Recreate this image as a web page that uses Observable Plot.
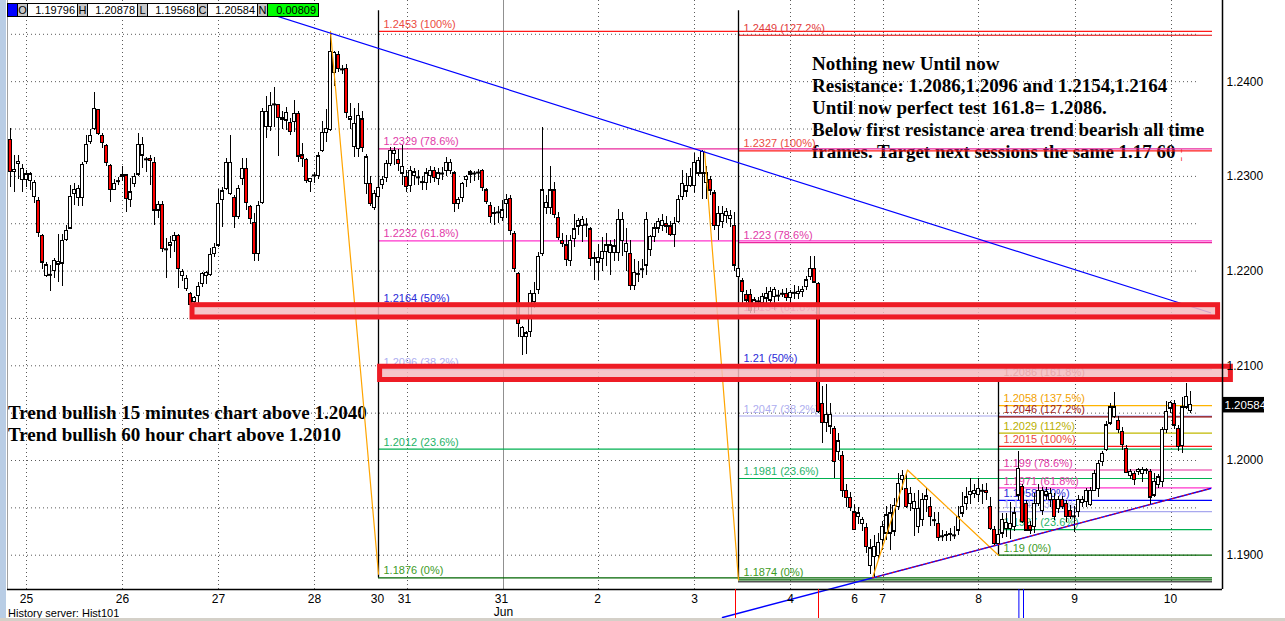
<!DOCTYPE html>
<html><head><meta charset="utf-8">
<script src="https://cdn.jsdelivr.net/npm/d3@7"></script>
<script src="https://cdn.jsdelivr.net/npm/@observablehq/plot@0.6"></script>
<style>
html,body{margin:0;padding:0;background:#fff;}
#wrap{position:relative;width:1285px;height:621px;overflow:hidden;background:#fff;font-family:Arial,"Liberation Sans",sans-serif;}
#strip{position:absolute;left:0;top:0;width:6px;height:621px;background:#b9cde5;}
.note{position:absolute;font-family:"Liberation Serif","Times New Roman",serif;font-weight:bold;font-size:19px;line-height:22px;color:#000;white-space:nowrap;}
#chart{position:absolute;left:0;top:0;}
#hdr{position:absolute;left:7px;top:3px;display:flex;height:12px;border:1px solid #000;font-size:11px;line-height:12px;background:#fff;}
#hdr div{border-right:1px solid #000;box-sizing:border-box;height:12px;}
#hdr .k{width:10px;background:#c8c8c8;text-align:center;}
#hdr .v{width:50px;text-align:right;padding-right:2px;}
#foot{position:absolute;left:8px;top:607px;height:11px;overflow:hidden;font-size:11px;line-height:13px;}
#bar{position:absolute;left:0;top:618px;width:1285px;height:3px;background:#d4d0c8;}
</style></head>
<body><div id="wrap">
<div id="strip"></div>
<div class="note" style="left:812px;top:53px;">Nothing new Until now<br>Resistance: 1.2086,1.2096 and 1.2154,1.2164<br>Until now perfect test 161.8= 1.2086.<br>Below first resistance area trend bearish all time<br>frames. Target next sessions the same 1.17 60 <span style="color:#e00;font-weight:normal;font-size:13px">¦</span></div>
<div class="note" style="left:8px;top:402px;">Trend bullish 15 minutes chart above 1.2040<br>Trend bullish 60 hour chart above 1.2010</div>
<div id="chart"></div>
<div id="hdr"></div>
<div id="foot">History server: Hist101</div>
<div id="bar"></div>
</div>
<script>
// ---------- DATA (hourly EUR/USD candles: [open, high, low, close]) ----------
const may25 = [
[1.2338,1.2351,1.2288,1.2305],[1.2305,1.2322,1.2283,1.2307],[1.2313,1.2322,1.2297,1.2315],[1.2296,1.2313,1.2283,1.2308],
[1.2296,1.2306,1.2288,1.2302],[1.2295,1.2304,1.2285,1.2302],[1.2278,1.2296,1.2271,1.2293],[1.2274,1.2278,1.2235,1.2240],
[1.2237,1.2239,1.2202,1.2209],[1.2195,1.2209,1.2193,1.2206],[1.2196,1.2206,1.2178,1.2196],[1.2200,1.2213,1.2192,1.2211],
[1.2207,1.2239,1.2188,1.2210],[1.2208,1.2239,1.2184,1.2232],[1.2233,1.2248,1.2231,1.2242],[1.2245,1.2290,1.2245,1.2278],
[1.2281,1.2293,1.2269,1.2286],[1.2277,1.2290,1.2268,1.2287],[1.2277,1.2315,1.2268,1.2312],[1.2315,1.2343,1.2313,1.2333],
[1.2336,1.2350,1.2334,1.2343],[1.2350,1.2389,1.2348,1.2371],[1.2370,1.2371,1.2343,1.2345],[1.2343,1.2345,1.2329,1.2335],
[1.2332,1.2334,1.2310,1.2314],[1.2311,1.2313,1.2272,1.2286],[1.2286,1.2297,1.2285,1.2292],[1.2295,1.2299,1.2290,1.2295]];
const may26 = [
[1.2299,1.2310,1.2295,1.2301],[1.2301,1.2302,1.2262,1.2276],[1.2275,1.2298,1.2267,1.2283],[1.2292,1.2303,1.2288,1.2299],
[1.2302,1.2345,1.2300,1.2333],[1.2322,1.2341,1.2308,1.2333],[1.2318,1.2320,1.2304,1.2318],[1.2318,1.2322,1.2290,1.2316],
[1.2314,1.2320,1.2248,1.2264],[1.2264,1.2273,1.2256,1.2270],[1.2270,1.2273,1.2220,1.2223],[1.2223,1.2234,1.2192,1.2223],
[1.2227,1.2236,1.2213,1.2230],[1.2232,1.2241,1.2220,1.2237],[1.2237,1.2239,1.2182,1.2202],[1.2195,1.2202,1.2189,1.2199],
[1.2181,1.2195,1.2178,1.2192],[1.2176,1.2177,1.2163,1.2164],[1.2167,1.2173,1.2163,1.2172],[1.2174,1.2188,1.2165,1.2183],
[1.2186,1.2199,1.2183,1.2197],[1.2195,1.2200,1.2186,1.2198],[1.2196,1.2224,1.2194,1.2217],[1.2218,1.2229,1.2214,1.2224]];
const may27 = [
[1.2227,1.2286,1.2225,1.2271],[1.2275,1.2288,1.2246,1.2284],[1.2287,1.2319,1.2285,1.2314],[1.2281,1.2343,1.2280,1.2314],
[1.2277,1.2280,1.2245,1.2257],[1.2257,1.2290,1.2254,1.2287],[1.2297,1.2319,1.2290,1.2308],[1.2308,1.2319,1.2264,1.2272],
[1.2268,1.2269,1.2249,1.2255],[1.2251,1.2261,1.2210,1.2218],[1.2218,1.2273,1.2210,1.2269],[1.2272,1.2372,1.2270,1.2368],
[1.2352,1.2384,1.2340,1.2368],[1.2352,1.2389,1.2347,1.2374],[1.2376,1.2394,1.2352,1.2376],[1.2375,1.2376,1.2321,1.2362],
[1.2360,1.2369,1.2350,1.2362],[1.2359,1.2373,1.2348,1.2367],[1.2356,1.2361,1.2343,1.2347],[1.2357,1.2380,1.2346,1.2366],
[1.2366,1.2369,1.2315,1.2321],[1.2322,1.2335,1.2309,1.2318],[1.2317,1.2319,1.2293,1.2295],[1.2294,1.2297,1.2283,1.2297]];
const may28 = [
[1.2301,1.2304,1.2293,1.2301],[1.2300,1.2325,1.2297,1.2321],[1.2327,1.2358,1.2325,1.2346],[1.2346,1.2371,1.2336,1.2350],
[1.2349,1.2453,1.2347,1.2431],[1.2409,1.2432,1.2395,1.2430],[1.2428,1.2432,1.2410,1.2413],[1.2413,1.2417,1.2408,1.2413],
[1.2413,1.2418,1.2361,1.2367],[1.2360,1.2377,1.2350,1.2363],[1.2331,1.2372,1.2320,1.2355],[1.2329,1.2377,1.2320,1.2364],
[1.2360,1.2368,1.2325,1.2330],[1.2292,1.2323,1.2281,1.2320],[1.2292,1.2300,1.2268,1.2271],[1.2267,1.2285,1.2264,1.2281]];
const may31 = [
[1.2278,1.2292,1.2272,1.2288],[1.2291,1.2300,1.2286,1.2296],[1.2298,1.2317,1.2294,1.2313],[1.2313,1.2330,1.2310,1.2327],
[1.2324,1.2330,1.2312,1.2327],[1.2317,1.2328,1.2305,1.2313],[1.2303,1.2333,1.2290,1.2310],[1.2299,1.2306,1.2283,1.2289],
[1.2290,1.2310,1.2283,1.2306],[1.2300,1.2308,1.2290,1.2304],[1.2299,1.2306,1.2290,1.2299],[1.2294,1.2300,1.2285,1.2294],
[1.2293,1.2308,1.2285,1.2303],[1.2300,1.2310,1.2292,1.2306],[1.2306,1.2309,1.2294,1.2298],[1.2297,1.2308,1.2290,1.2303],
[1.2303,1.2309,1.2296,1.2303],[1.2306,1.2320,1.2300,1.2314],[1.2306,1.2318,1.2302,1.2314],[1.2303,1.2305,1.2262,1.2271],
[1.2271,1.2278,1.2265,1.2275],[1.2277,1.2294,1.2272,1.2292],[1.2296,1.2301,1.2288,1.2299],[1.2302,1.2306,1.2292,1.2304],
[1.2303,1.2305,1.2295,1.2303],[1.2304,1.2307,1.2296,1.2304],[1.2306,1.2307,1.2284,1.2288],[1.2285,1.2287,1.2270,1.2273],
[1.2269,1.2272,1.2250,1.2257],[1.2260,1.2267,1.2248,1.2261],[1.2262,1.2268,1.2250,1.2262]];
const jun1 = [
[1.2256,1.2275,1.2252,1.2264],[1.2271,1.2281,1.2255,1.2275],[1.2276,1.2280,1.2238,1.2242],[1.2239,1.2242,1.2198,1.2202],
[1.2197,1.2198,1.2130,1.2144],[1.2130,1.2142,1.2111,1.2140],[1.2130,1.2136,1.2112,1.2134],[1.2136,1.2180,1.2130,1.2176],
[1.2167,1.2188,1.2160,1.2176],[1.2180,1.2220,1.2175,1.2215],[1.2218,1.2352,1.2215,1.2285],[1.2267,1.2280,1.2260,1.2272],
[1.2267,1.2310,1.2260,1.2285],[1.2285,1.2294,1.2255,1.2259],[1.2256,1.2262,1.2232,1.2235],[1.2232,1.2240,1.2225,1.2229],
[1.2227,1.2238,1.2205,1.2212],[1.2211,1.2238,1.2205,1.2232],[1.2234,1.2260,1.2225,1.2244],[1.2247,1.2256,1.2238,1.2253],
[1.2248,1.2258,1.2230,1.2254],[1.2249,1.2256,1.2235,1.2249],[1.2244,1.2246,1.2205,1.2213],[1.2213,1.2220,1.2190,1.2214]];
const jun2 = [
[1.2209,1.2228,1.2190,1.2214],[1.2213,1.2235,1.2200,1.2220],[1.2220,1.2240,1.2205,1.2227],[1.2219,1.2232,1.2195,1.2227],
[1.2219,1.2233,1.2210,1.2226],[1.2219,1.2265,1.2210,1.2254],[1.2232,1.2262,1.2215,1.2254],[1.2220,1.2245,1.2200,1.2229],
[1.2218,1.2232,1.2180,1.2184],[1.2184,1.2212,1.2180,1.2198],[1.2197,1.2210,1.2188,1.2197],[1.2202,1.2212,1.2192,1.2202],
[1.2206,1.2262,1.2195,1.2254],[1.2222,1.2238,1.2215,1.2236],[1.2236,1.2250,1.2230,1.2245],[1.2245,1.2255,1.2240,1.2252],
[1.2248,1.2260,1.2242,1.2253],[1.2250,1.2258,1.2240,1.2247],[1.2247,1.2252,1.2236,1.2238],[1.2238,1.2257,1.2225,1.2250],
[1.2252,1.2280,1.2250,1.2275],[1.2278,1.2306,1.2275,1.2292],[1.2284,1.2303,1.2278,1.2290],[1.2290,1.2308,1.2288,1.2299]];
const jun3 = [
[1.2290,1.2324,1.2282,1.2314],[1.2303,1.2320,1.2300,1.2316],[1.2303,1.2327,1.2276,1.2326],[1.2293,1.2310,1.2276,1.2303],
[1.2296,1.2300,1.2280,1.2285],[1.2282,1.2285,1.2243,1.2248],[1.2248,1.2268,1.2232,1.2260],[1.2252,1.2268,1.2245,1.2260],
[1.2258,1.2266,1.2250,1.2262],[1.2255,1.2264,1.2246,1.2258],[1.2248,1.2262,1.2200,1.2206],[1.2194,1.2206,1.2180,1.2202],
[1.2189,1.2192,1.2166,1.2178],[1.2175,1.2180,1.2165,1.2169],[1.2175,1.2181,1.2155,1.2158],[1.2162,1.2172,1.2155,1.2169],
[1.2168,1.2172,1.2158,1.2168],[1.2166,1.2176,1.2162,1.2173],[1.2171,1.2183,1.2164,1.2176],[1.2169,1.2183,1.2165,1.2178],
[1.2173,1.2183,1.2158,1.2180],[1.2174,1.2180,1.2168,1.2174],[1.2176,1.2181,1.2172,1.2176],[1.2176,1.2182,1.2168,1.2172]];
const jun4 = [
[1.2172,1.2180,1.2166,1.2177],[1.2177,1.2185,1.2170,1.2177],[1.2176,1.2184,1.2170,1.2178],[1.2178,1.2184,1.2172,1.2180],
[1.2183,1.2194,1.2180,1.2190],[1.2194,1.2215,1.2190,1.2202],[1.2202,1.2215,1.2187,1.2188],[1.2186,1.2188,1.2050,1.2051],
[1.2060,1.2078,1.2018,1.2040],[1.2040,1.2080,1.2030,1.2048],[1.2036,1.2060,1.2027,1.2048],[1.2033,1.2036,1.1981,1.1998],
[1.2009,1.2028,1.2000,1.2020],[1.2005,1.2009,1.1961,1.1968],[1.1968,1.1975,1.1950,1.1960],[1.1960,1.1966,1.1946,1.1950]];
const jun7 = [
[1.1945,1.1954,1.1926,1.1927],[1.1940,1.1950,1.1932,1.1944],[1.1933,1.1940,1.1925,1.1937],[1.1929,1.1933,1.1902,1.1909],
[1.1889,1.1917,1.1880,1.1907],[1.1898,1.1921,1.1876,1.1909],[1.1899,1.1923,1.1896,1.1913],[1.1916,1.1936,1.1905,1.1930],
[1.1923,1.1951,1.1916,1.1942],[1.1923,1.1954,1.1905,1.1944],[1.1925,1.1960,1.1920,1.1952],[1.1951,1.1986,1.1947,1.1975],
[1.1979,1.1989,1.1968,1.1984],[1.1970,1.1986,1.1949,1.1951],[1.1954,1.1972,1.1946,1.1965],[1.1949,1.1965,1.1920,1.1956],
[1.1930,1.1968,1.1923,1.1949],[1.1937,1.1965,1.1930,1.1958],[1.1958,1.1970,1.1945,1.1962],[1.1951,1.1961,1.1930,1.1940],
[1.1937,1.1945,1.1930,1.1937],[1.1933,1.1945,1.1914,1.1918],[1.1920,1.1926,1.1914,1.1920],[1.1920,1.1925,1.1915,1.1921]];
const jun8 = [
[1.1921,1.1928,1.1915,1.1922],[1.1921,1.1930,1.1917,1.1921],[1.1926,1.1951,1.1921,1.1940],[1.1944,1.1966,1.1940,1.1951],
[1.1954,1.1972,1.1947,1.1961],[1.1964,1.1981,1.1954,1.1967],[1.1965,1.1975,1.1960,1.1968],[1.1964,1.1981,1.1956,1.1970],
[1.1968,1.1975,1.1954,1.1968],[1.1968,1.1976,1.1958,1.1966],[1.1951,1.1961,1.1926,1.1928],[1.1927,1.1930,1.1910,1.1912],
[1.1912,1.1933,1.1910,1.1921],[1.1923,1.1944,1.1918,1.1937],[1.1928,1.1944,1.1919,1.1934],[1.1928,1.1956,1.1917,1.1933],
[1.1930,1.1950,1.1925,1.1944],[1.1963,1.2009,1.1958,1.1991],[1.1972,1.1975,1.1933,1.1935],[1.1954,1.1958,1.1925,1.1926],
[1.1931,1.1936,1.1922,1.1926],[1.1930,1.1965,1.1923,1.1954],[1.1954,1.1975,1.1951,1.1968],[1.1947,1.1972,1.1942,1.1968]];
const jun9 = [
[1.1963,1.1972,1.1958,1.1967],[1.1958,1.1970,1.1950,1.1965],[1.1958,1.1965,1.1937,1.1940],[1.1949,1.1962,1.1944,1.1958],
[1.1958,1.1962,1.1948,1.1951],[1.1954,1.1958,1.1935,1.1940],[1.1947,1.1952,1.1938,1.1940],[1.1941,1.1951,1.1924,1.1941],
[1.1946,1.1963,1.1940,1.1958],[1.1955,1.1962,1.1950,1.1958],[1.1956,1.1970,1.1950,1.1968],[1.1953,1.1972,1.1951,1.1968],
[1.1968,1.1989,1.1967,1.1986],[1.1970,1.2000,1.1961,1.1996],[1.1998,1.2010,1.1994,1.2007],[1.2011,1.2041,1.2009,1.2037],
[1.2039,1.2060,1.2037,1.2056],[1.2046,1.2072,1.2044,1.2056],[1.2042,1.2046,1.2028,1.2032],[1.2030,1.2035,1.2011,1.2016],
[1.2012,1.2016,1.1986,1.1987],[1.1984,1.1990,1.1980,1.1988],[1.1986,1.1988,1.1974,1.1979],[1.1988,1.1992,1.1984,1.1990]];
const jun10 = [
[1.1986,1.1993,1.1977,1.1990],[1.1990,1.1992,1.1985,1.1989],[1.1988,1.1991,1.1954,1.1961],[1.1963,1.1986,1.1961,1.1977],
[1.1974,1.1985,1.1970,1.1982],[1.1977,1.2035,1.1972,1.2032],[1.2032,1.2062,1.2028,1.2051],[1.2055,1.2062,1.2050,1.2061],
[1.2060,1.2063,1.2033,1.2037],[1.2033,1.2037,1.2009,1.2014],[1.2015,1.2067,1.2007,1.2056],[1.2056,1.2081,1.2054,1.2067],
[1.2052,1.2073,1.2050,1.20584]];

// header quote cells
const headerKeys = ["O","H","L","C","N"];
const headerVals = ["1.19796","1.20878","1.19568","1.20584","0.00809"];

// day tick labels (bar index = hour number from the first candle)
const dayLabels = ["25","26","27","28","30","31","31","2","3","4","6","7","8","9","10"];
const dayBars   = [4, 28, 52, 76, 91.75, 98.5, 122.75, 146.75, 171, 195, 211, 218, 242, 266, 290];
const gridBars  = [4, 28, 52, 76, 99.25, 147, 171, 195, 211, 218.25, 242, 266.25, 290.25];
const monthBar  = 123.25;
const yTicks    = [1.19, 1.20, 1.21, 1.22, 1.23, 1.24];
const yGrid     = [1.19,1.195,1.20,1.205,1.21,1.215,1.22,1.225,1.23,1.235,1.24,1.245];

// Fibonacci drawings
const fib1Levels = [1.2453,1.2329,1.2232,1.2164,1.2096,1.2012,1.1876];
const fib1Pcts   = ["100%","78.6%","61.8%","50%","38.2%","23.6%","0%"];
const fib2Levels = [1.2449,1.2327,1.223,1.2154,1.21,1.2047,1.1981,1.1874];
const fib2Pcts   = ["127.2%","100%","78.6%","61.8%","50%","38.2%","23.6%","0%"];
const fib3Levels = [1.2086,1.2058,1.2046,1.2029,1.2015,1.199,1.1971,1.1958,1.1946,1.1927,1.19];
const fib3Pcts   = ["161.8%","137.5%","127.2%","112%","100%","78.6%","61.8%","50%","38.2%","23.6%","0%"];
const fibStart   = [92, 182, 247];
const fibEnd     = 300.5;
const fibTop     = [1.2475, 1.2475, 1.2086];

// resistance zones
const zoneFrom = [45.5, 92.4];
const zoneTo   = [301.9, 305.1];
const zoneLo   = [1.2151, 1.2085];
const zoneHi   = [1.2164, 1.2099];

// trend lines & swing legs (bar, price)
const descLine = [[60, 1.2478], [300, 1.2156]];
const ascLine  = [[178, 1.18342], [300, 1.19704]];
const ascOverlayFrom = 215.5;
const legs = [
  [[80, 1.2453], [92, 1.1880]],
  [[173.5, 1.2327], [182, 1.1874]],
  [[215.5, 1.1876], [224.25, 1.1990], [247, 1.1900]]
];
const redMarks  = [181.25, 202];
const blueMarks = [252.1, 253.25];

// ---------- BUILD ----------
const candles = [].concat(may25, may26, may27, may28, may31, jun1, jun2, jun3, jun4, jun7, jun8, jun9, jun10);
const bars = candles.map(([o,h,l,c], i) => ({i, o, h, l, c}));
const lastClose = candles[candles.length - 1][3];

const X0 = -0.75, X1 = 303;
const Y0 = 1.18638, Y1 = 1.24857;

const labelColor = {"161.8%":"#9b3535","137.5%":"#f2a200","127.2%":"#e23b3b","112%":"#b9b000","100%":"#ec4b42",
  "78.6%":"#e23aa8","61.8%":"#e23aa8","50%":"#2a2ad8","38.2%":"#aeaef0","23.6%":"#1fb368","0%":"#3d9b1f"};
const lineColor = {"161.8%":"#8b2020","137.5%":"#ffb400","127.2%":"#e00000","112%":"#c0b800","100%":"#ff1a1a",
  "78.6%":"#e8289c","61.8%":"#ff33cc","50%":"#0000ff","38.2%":"#a8a8ee","23.6%":"#00b050","0%":"#006400"};

const fibs = [];
[[fib1Levels, fib1Pcts], [fib2Levels, fib2Pcts], [fib3Levels, fib3Pcts]].forEach(([lv, pc], s) => {
  lv.forEach((v, j) => fibs.push({s, v, p: pc[j], start: fibStart[s],
    lc: (s === 2 && pc[j] === "127.2%") ? "#8b0000" : lineColor[pc[j]],
    tc: (s === 2 && pc[j] === "127.2%") ? "#9b1c1c" : labelColor[pc[j]]}));
});
const fibVerts = fibStart.map((b, s) => ({b, top: fibTop[s], bot: s === 0 ? fib1Levels.at(-1) : s === 1 ? fib2Levels.at(-1) : fib3Levels.at(-1)}));

const legPts = legs.flatMap((lg, k) => lg.map(([b, p]) => ({k, b, p})));
const desc = descLine.map(([b, p]) => ({b, p}));
const asc = ascLine.map(([b, p]) => ({b, p}));
const ascAt = b => asc[0].p + (b - asc[0].b) * (asc[1].p - asc[0].p) / (asc[1].b - asc[0].b);
const ascOverlay = [{b: ascOverlayFrom, p: ascAt(ascOverlayFrom)}, {b: asc[1].b, p: asc[1].p}];
const zones = zoneFrom.map((a, k) => ({a, b: zoneTo[k], lo: zoneLo[k], hi: zoneHi[k]}));
const days = dayLabels.map((t, k) => ({t, b: dayBars[k]}));
const bodies = bars.filter(d => d.o !== d.c);
const dojis = bars.filter(d => d.o === d.c);
const below = Y0 - 0.0034;

const chart = Plot.plot({
  width: 1285, height: 621,
  marginLeft: 7, marginRight: 63, marginTop: 0, marginBottom: 32,
  x: {domain: [X0, X1], axis: null},
  y: {domain: [Y0, Y1], axis: null},
  style: {background: "none", fontFamily: "Arial, 'Liberation Sans', sans-serif", overflow: "visible"},
  marks: [
    Plot.ruleY(yGrid, {y: d => d, x1: () => X0, x2: () => bars.length + 0.75, stroke: "#5a5a5a", strokeDasharray: "1,3"}),
    Plot.ruleX(gridBars, {x: d => d, stroke: "#5a5a5a", strokeDasharray: "1,3"}),
    Plot.ruleX([monthBar], {x: d => d, stroke: "#909090"}),
    Plot.ruleY(fibs, {y: "v", x1: "start", x2: () => fibEnd, stroke: "lc", strokeWidth: 1.2}),
    Plot.ruleY(fibVerts.slice(1, 2), {y: "bot", x1: "b", x2: () => fibEnd, stroke: "#000", dy: 2}),
    Plot.ruleX(fibVerts, {x: "b", y1: "bot", y2: "top", stroke: "#000", strokeWidth: 1.3}),
    Plot.text(fibs, {x: "start", y: "v", text: d => `${d.v} (${d.p})`, fill: "tc", dx: 5, dy: -7, textAnchor: "start", fontSize: 11}),
    // candles
    Plot.ruleX(bars, {x: "i", y1: "l", y2: "h", stroke: "#000", strokeWidth: 1.2, shapeRendering: "crispEdges"}),
    Plot.rect(bodies, {x1: d => d.i - 0.45, x2: d => d.i + 0.45, y1: d => Math.min(d.o, d.c), y2: d => Math.max(d.o, d.c),
      fill: d => d.c > d.o ? "#ffffff" : "#ff0000", stroke: "#000", strokeWidth: 1.2, shapeRendering: "crispEdges"}),
    Plot.ruleY(dojis, {y: "o", x1: d => d.i - 0.5, x2: d => d.i + 0.5, stroke: "#000", strokeWidth: 2}),
    // drawings
    Plot.line(legPts, {x: "b", y: "p", z: "k", stroke: "#ffa500", strokeWidth: 1.2}),
    Plot.line(desc, {x: "b", y: "p", stroke: "#0000ff", strokeWidth: 1.2}),
    Plot.line(asc, {x: "b", y: "p", stroke: "#0000ff", strokeWidth: 1.4}),
    Plot.line(ascOverlay, {x: "b", y: "p", stroke: "#ff0000", strokeWidth: 1, strokeDasharray: "2,3"}),
    Plot.rect(zones, {x1: "a", x2: "b", y1: "lo", y2: "hi", fill: "#f4bcc0", fillOpacity: 0.85, stroke: "#ee1c25", strokeWidth: 5}),
    // frame & axes
    Plot.ruleX([X0], {x: d => d, stroke: "#a0a0a0"}),
    Plot.ruleX([X1], {x: d => d, stroke: "#000", strokeWidth: 1.5}),
    Plot.ruleY([Y0], {y: d => d, stroke: "#000", strokeWidth: 1.5}),
    Plot.ruleX(redMarks, {x: d => d, y1: () => Y0, y2: () => below, stroke: "#ff0000"}),
    Plot.ruleX(blueMarks, {x: d => d, y1: () => Y0, y2: () => below, stroke: "#0000ff"}),
    Plot.text(yTicks, {x: () => X1, y: d => d, text: d => d.toFixed(4), dx: 4, textAnchor: "start", fontSize: 12, fill: "#000"}),
    Plot.rect([lastClose], {x1: () => X1 + 0.25, x2: () => X1 + 10.5, y1: d => d - 0.00082, y2: d => d + 0.00082, fill: "#000"}),
    Plot.text([lastClose], {x: () => X1, y: d => d, text: d => d.toFixed(5), dx: 2, textAnchor: "start", fontSize: 11.5, fill: "#fff"}),
    Plot.text(days, {x: "b", y: () => Y0, text: "t", dy: 10, fontSize: 12, fill: "#000"}),
    Plot.text(["Jun"], {x: () => monthBar, y: () => Y0, text: d => d, dy: 23, fontSize: 12, fill: "#000"})
  ]
});
document.getElementById("chart").appendChild(chart);

// header quote strip
const hdr = document.getElementById("hdr");
hdr.insertAdjacentHTML("beforeend", '<div style="width:10px;background:#0000ff"></div>');
headerKeys.forEach((k, j) => {
  hdr.insertAdjacentHTML("beforeend", `<div class="k">${k}</div>`);
  const bg = j === headerKeys.length - 1 ? "background:#00ff00;" : "";
  const br = j === headerKeys.length - 1 ? "border-right:none;" : "";
  hdr.insertAdjacentHTML("beforeend", `<div class="v" style="${bg}${br}">${headerVals[j]}</div>`);
});
</script>
</body></html>
